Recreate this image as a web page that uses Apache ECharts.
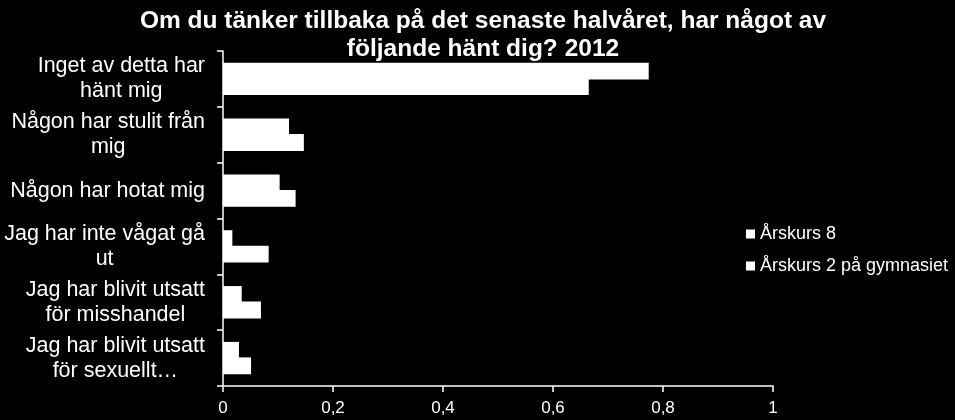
<!DOCTYPE html>
<html>
<head>
<meta charset="utf-8">
<script src="https://cdn.jsdelivr.net/npm/echarts@6/dist/echarts.min.js"></script>
<style>
    html, body { margin: 0; padding: 0; background: #000; }
    #chart { width: 955px; height: 420px; }
</style>
</head>
<body>
<div id="chart"></div>
<script>
// kategorier uppifrån och ned
var categories = [
    "Inget av detta har\nhänt mig",
    "Någon har stulit från\nmig",
    "Någon har hotat mig",
    "Jag har inte vågat gå\nut",
    "Jag har blivit utsatt\nför misshandel",
    "Jag har blivit utsatt\nför sexuellt…"
];
var seriesNames = ["Årskurs 8", "Årskurs 2 på gymnasiet"];
var arskurs8 = [0.774, 0.12, 0.103, 0.017, 0.034, 0.029];
var arskurs2gy = [0.665, 0.147, 0.132, 0.083, 0.069, 0.051];
var xTicks = [0, 0.2, 0.4, 0.6, 0.8, 1];

var fontFam = "'Liberation Sans', Arial, sans-serif";

var chart = echarts.init(document.getElementById("chart"));

var option = {
    backgroundColor: "#000",
    animation: false,
    title: {
        text: "Om du tänker tillbaka på det senaste halvåret, har något av\nföljande hänt dig? 2012",
        left: 478,
        textAlign: "center",
        top: 2,
        textStyle: {
            color: "#fff",
            fontFamily: fontFam,
            fontWeight: "bold",
            fontSize: 24.5,
            lineHeight: 28
        }
    },
    legend: {
        orient: "vertical",
        left: 741,
        top: 220,
        icon: "rect",
        itemWidth: 9,
        itemHeight: 9,
        itemGap: 14,
        textStyle: { color: "#fff", fontFamily: fontFam, fontSize: 18 },
        data: seriesNames
    },
    grid: { left: 223, right: 182, top: 51, bottom: 34 },
    xAxis: {
        type: "value",
        min: 0,
        max: 1,
        interval: 0.2,
        splitLine: { show: false },
        axisLine: { show: true, lineStyle: { color: "#fff", width: 1.5 } },
        axisTick: { show: true, length: 6, lineStyle: { color: "#fff", width: 1.5 } },
        axisLabel: {
            color: "#fff",
            fontFamily: fontFam,
            fontSize: 17,
            margin: 14,
            formatter: function (v) {
                var t = xTicks.filter(function (x) { return Math.abs(x - v) < 1e-6; });
                return t.length ? String(t[0]).replace(".", ",") : "";
            }
        }
    },
    yAxis: {
        type: "category",
        inverse: true,
        data: categories,
        axisLine: { show: true, lineStyle: { color: "#fff", width: 1.5 } },
        axisTick: { show: true, length: 6, lineStyle: { color: "#fff", width: 1.5 } },
        axisLabel: {
            color: "#fff",
            margin: 18,
            formatter: function (v) {
                return v.split("\n").map(function (s) { return "{c|" + s + "}"; }).join("\n");
            },
            rich: {
                c: { color: "#fff", fontFamily: fontFam, fontSize: 21.5, lineHeight: 25, align: "center" }
            }
        }
    },
    series: [
        {
            name: seriesNames[0],
            type: "bar",
            data: arskurs8,
            barGap: "-8%",
            barCategoryGap: "42%",
            itemStyle: { color: "#fff" }
        },
        {
            name: seriesNames[1],
            type: "bar",
            data: arskurs2gy,
            barGap: "-8%",
            barCategoryGap: "42%",
            itemStyle: { color: "#fff" }
        }
    ]
};

chart.setOption(option);
</script>
</body>
</html>
